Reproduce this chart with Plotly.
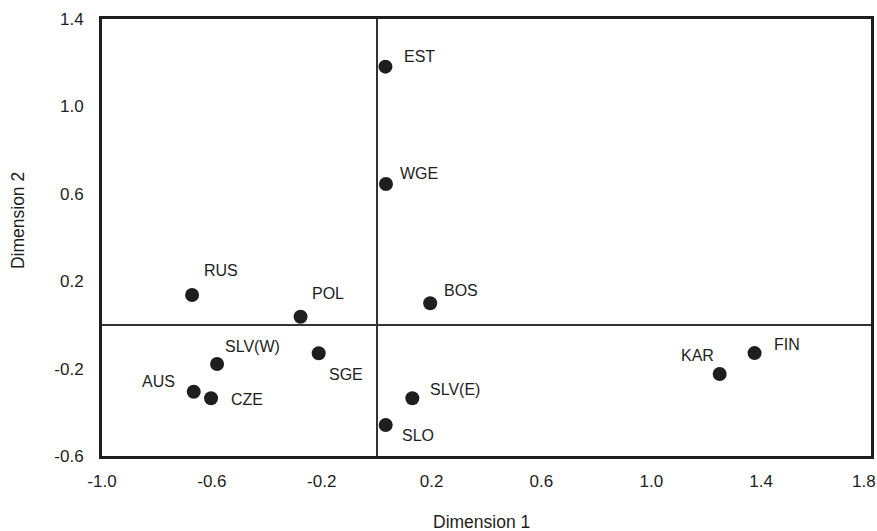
import plotly.graph_objects as go

# Data
countries = ["EST", "WGE", "RUS", "POL", "BOS", "SGE", "SLV(W)", "AUS", "CZE",
             "SLV(E)", "SLO", "KAR", "FIN"]
dim1 = [0.032, 0.034, -0.672, -0.277, 0.195, -0.211, -0.581, -0.666, -0.603,
        0.130, 0.033, 1.249, 1.376]
dim2 = [1.182, 0.645, 0.137, 0.037, 0.099, -0.130, -0.179, -0.306, -0.336,
        -0.336, -0.458, -0.225, -0.129]

x_tickvals = [-1.0, -0.6, -0.2, 0.2, 0.6, 1.0, 1.4, 1.8]
x_ticktext = ["-1.0", "-0.6", "-0.2", "0.2", "0.6", "1.0", "1.4", "1.8"]
y_tickvals = [-0.6, -0.2, 0.2, 0.6, 1.0, 1.4]
y_ticktext = ["-0.6", "-0.2", "0.2", "0.6", "1.0", "1.4"]
x_title = "Dimension 1"
y_title = "Dimension 2"

# label placement (style): anchor, xshift, yshift (px, y up)
label_style = {
    "EST": ("left", 17, 10),
    "WGE": ("left", 12, 10),
    "RUS": ("left", 10, 24),
    "POL": ("left", 9, 23),
    "BOS": ("left", 12, 13),
    "SGE": ("left", 8, -21),
    "SLV(W)": ("left", 6, 18),
    "AUS": ("right", -17, 10),
    "CZE": ("left", 18, -1),
    "SLV(E)": ("left", 16, 9),
    "SLO": ("left", 14, -11),
    "KAR": ("right", -4, 19),
    "FIN": ("left", 17, 9),
}

FONT = "Liberation Sans, Arial, sans-serif"
INK = "#1e1e1e"

fig = go.Figure()
fig.add_trace(go.Scatter(
    x=dim1, y=dim2, mode="markers",
    marker=dict(size=14, color=INK, line=dict(width=0)),
    hoverinfo="text", text=countries, showlegend=False,
))

for name, xv, yv in zip(countries, dim1, dim2):
    anchor, xs, ys = label_style[name]
    fig.add_annotation(x=xv, y=yv, text=name, showarrow=False,
                       xanchor=anchor, yanchor="middle", xshift=xs, yshift=ys,
                       font=dict(family=FONT, size=16, color=INK))

# axis titles
fig.add_annotation(x=0.494, y=-0.151, xref="paper", yref="paper", text=x_title,
                   showarrow=False, xanchor="center", yanchor="middle",
                   font=dict(family=FONT, size=17.5, color=INK))
fig.add_annotation(x=-0.109, y=0.538, xref="paper", yref="paper", text=y_title,
                   showarrow=False, xanchor="center", yanchor="middle", textangle=-90,
                   font=dict(family=FONT, size=17.5, color=INK))

# pad the last x tick label so it stays inside the page like the reference
x_ticktext_disp = x_ticktext[:-1] + [x_ticktext[-1] + "\u00a0\u00a0\u00a0"]

fig.update_layout(
    width=877, height=531,
    margin=dict(l=102, r=6, t=19, b=75),
    paper_bgcolor="white", plot_bgcolor="white",
    font=dict(family=FONT, size=17, color=INK),
)
fig.update_xaxes(
    range=[-1.0, 1.8], tickvals=x_tickvals, ticktext=x_ticktext_disp,
    showgrid=False, zeroline=True, zerolinecolor="#333333", zerolinewidth=1.5,
    showline=True, linecolor=INK, linewidth=3, mirror=True, ticks="",
    ticklabelstandoff=8, automargin=False, ticklabeloverflow="allow",
    tickfont=dict(size=17),
)
fig.update_yaxes(
    range=[-0.6, 1.4], tickvals=y_tickvals, ticktext=y_ticktext,
    showgrid=False, zeroline=True, zerolinecolor="#333333", zerolinewidth=1.5,
    showline=True, linecolor=INK, linewidth=3, mirror=True, ticks="",
    ticklabelstandoff=12, automargin=False, ticklabeloverflow="allow",
    tickfont=dict(size=17),
)

fig.write_html(
    "out.html",
    config={"displayModeBar": False},
    post_script="document.body.style.margin='0';document.body.style.overflow='hidden';",
)
